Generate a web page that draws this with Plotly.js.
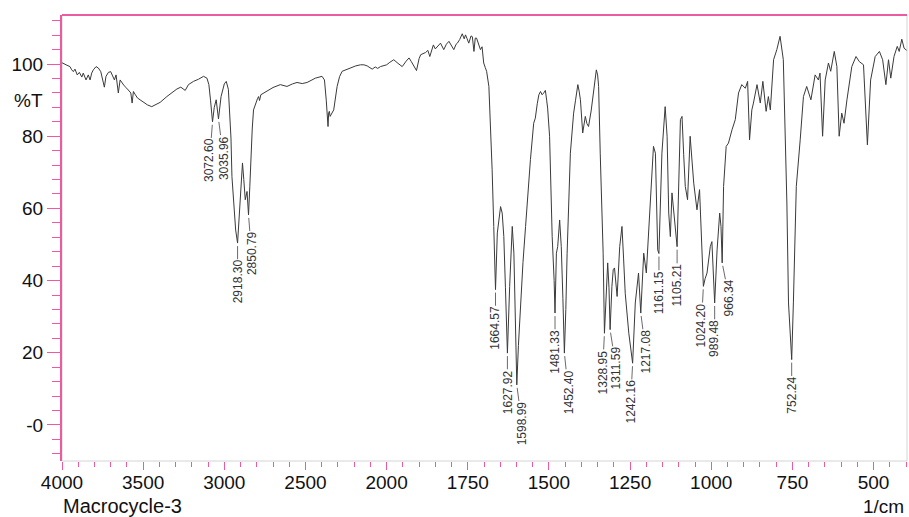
<!DOCTYPE html>
<html>
<head>
<meta charset="utf-8">
<script src="https://cdn.plot.ly/plotly-3.0.1.min.js"></script>
<style>
html,body{margin:0;padding:0;background:#fff;}
#chart{width:909px;height:517px;}
</style>
</head>
<body>
<div id="chart"></div>
<script>
// ---- Data ----
const wavenumber = [
4000,3996,3975,3951,3940,3930,3920,3906,3893,3878,3869,3852,3838,3827,3817,3807,3790,3776,3761,3749,
3739,3729,3714,3700,3687,3677,3667,3653,3642,3630,3617,3601,3588,3576,3568,3560,3548,3535,3519,3498,
3474,3447,3426,3395,3354,3323,3292,3268,3241,3221,3190,3159,3128,3107,3095,3085,3072.6,3062,3050,3036,
3020,3000,2988,2975,2965,2959,2953,2940,2930,2918.3,2905,2895,2888,2880,2871,2860,2850.8,2843,2836,2828,
2820,2805,2795,2789,2783,2775,2737,2700,2655,2614,2580,2552,2520,2490,2460,2439,2398,2383,2372,2365,
2361,2357,2353,2348,2342,2326,2305,2290,2274,2243,2223,2190,2161,2140,2120,2100,2089,2070,2055,2038,
2020,2000,1990,1978,1965,1952,1940,1931,1924,1915,1908,1900,1895,1880,1873,1867,1860,1856,1850,1844,
1834,1824,1816,1808,1800,1793,1786,1782,1775,1767,1761,1757,1752,1747,1740,1736,1731,1727,1723,1716,
1711,1706,1701,1696,1692,1685,1680,1675,1670,1664.6,1659,1652,1649,1644,1639,1634,1627.9,1621,1616,1613,
1608,1604,1599,1594,1588,1580,1572,1565,1557,1547,1542,1536,1531,1526,1521,1516,1511,1507,1504,1498,
1490,1484,1481.3,1477,1473,1467,1462,1457,1452.4,1448,1444,1434,1424,1418,1411,1407,1403,1396,1392,1388,
1383,1378,1370,1364,1358,1354,1350,1347,1342,1333,1329,1323,1319,1315,1311.6,1306,1302,1298,1290,1282,
1275,1270,1265,1254,1248,1242.2,1234,1224,1217.1,1208,1200,1193,1185,1178,1172,1165,1161.2,1152,1142,1136,
1131,1126,1121,1111,1105.2,1095,1090,1085,1080,1073,1065,1054,1044,1036,1029,1024.2,1019,1013,1003,998,
989.5,982,974,970,966.3,962,954,947,936,926,916,906,895,888,882,875,870,859,849,841,
831,824,818,808,798,788,778,767,762,752.2,747,738,726,716,706,693,680,670,665,657,
649,639,632,621,613,606,598,591,582,567,554,544,531,519,509,495,482,472,462,454,
447,437,427,421,413,406,398
];
const transmittance = [
100.2,100.3,99.8,99.3,98.4,97.9,98.6,97.0,97.7,96.4,97.5,95.6,97.0,95.6,97.5,98.4,99.3,98.9,97.9,95.6,
93.6,96.6,97.7,97.9,96.6,95.6,97.0,92.0,95.6,94.7,94.0,93.3,92.7,92.0,89.2,92.4,91.5,90.6,90.1,89.4,
88.7,88.2,88.6,89.4,91.0,92.1,93.1,93.6,92.7,94.3,95.2,95.8,96.6,96.1,94.3,90.0,84.0,88.0,90.1,84.8,
91.0,94.5,95.2,93.0,86.0,79.5,68.8,60.0,54.0,50.4,60.0,68.0,72.6,68.0,62.4,64.7,58.2,66.0,74.4,82.0,
87.3,89.5,90.5,91.0,89.9,91.5,92.4,93.5,94.3,93.8,94.5,94.9,94.6,94.9,95.6,96.1,96.6,95.6,90.0,84.0,
82.7,86.5,86.9,85.5,86.0,87.3,93.8,96.5,98.0,98.6,98.9,99.5,99.8,99.8,99.5,98.8,98.6,99.2,98.8,99.3,
99.6,99.8,100.5,101.2,100.2,99.3,100.8,101.7,100.7,99.5,98.2,101.5,102.6,103.2,103.8,102.1,104.5,105.3,104.2,104.7,
105.8,104.0,105.5,106.3,105.2,104.0,105.5,105.8,106.8,108.4,107.0,108.1,107.0,105.8,107.8,107.6,103.5,107.2,107.2,105.5,
104.0,104.8,100.3,99.0,98.0,93.8,84.0,70.7,55.0,37.5,53.2,58.0,60.5,58.7,52.2,38.0,19.9,38.4,50.0,55.0,
47.6,30.0,11.1,22.0,33.8,45.0,55.0,65.0,73.5,83.6,85.0,89.0,91.5,92.4,91.5,92.0,92.7,90.0,87.8,80.0,
52.2,40.0,31.0,47.6,49.4,56.8,49.4,35.0,19.9,32.0,47.6,75.3,86.4,90.0,94.3,92.5,90.1,80.9,84.0,85.5,
83.5,82.7,87.0,91.0,95.0,98.4,97.0,93.8,75.3,47.6,25.4,40.2,44.9,38.0,26.4,38.4,43.0,43.5,35.6,49.4,
55.0,46.0,36.5,25.4,21.0,17.1,33.8,42.1,31.0,47.6,42.1,52.2,65.0,77.2,75.3,48.5,47.5,75.3,88.2,80.0,
58.7,52.2,64.3,55.9,49.4,84.6,85.5,75.0,66.1,62.4,80.0,67.0,59.6,65.2,47.6,38.4,40.5,42.1,49.4,50.8,
33.8,48.5,58.7,55.0,44.9,66.1,77.2,78.1,81.8,84.6,92.0,94.3,93.3,95.2,79.0,87.3,89.2,94.3,89.2,95.2,
86.9,91.0,87.3,101.2,104.0,107.7,101.2,61.5,33.8,18.1,33.8,66.1,79.0,91.0,93.8,90.1,97.0,95.6,97.5,80.0,
95.6,100.3,98.0,103.5,99.3,80.0,86.4,83.6,90.1,99.3,102.1,100.7,99.8,77.6,95.6,102.1,103.5,101.2,94.3,101.2,
96.1,102.1,104.9,103.5,106.9,104.4,103.8
];
const peakLabels = ['3072.60','3035.96','2918.30','2850.79','1664.57','1627.92','1598.99','1481.33','1452.40',
  '1328.95','1311.59','1242.16','1217.08','1161.15','1105.21','1024.20','989.48','966.34','752.24'];
const peakTransmittance = [84.0,84.8,50.4,58.2,37.5,19.9,11.1,31.0,19.9,25.4,26.4,17.1,31.0,47.5,49.4,38.4,33.8,44.9,18.1];
const xTickWavenumbers = [4000,3500,3000,2500,2000,1750,1500,1250,1000,750,500];
const yTickValues = [0,20,40,60,80,100];
const yTickLabels = ['-0','20','40','60','80','100'];
const sampleName = 'Macrocycle-3';
const xUnit = '1/cm';
const yUnit = '%T';

// ---- Axis: scale is halved above 2000 1/cm (spectrometer split scale) ----
function axisPos(w) { return w > 2000 ? 2000 + (w - 2000) / 2 : w; }

const pink = '#ee5aa0';
const font = 'Liberation Sans, Arial, sans-serif';
const labelSize = 12;

// label offsets (pixels) for readability, like the original printout
const labelShift = {'3072.60': -3, '3035.96': 5, '2850.79': 3, '1598.99': 5, '1452.40': 4,
  '1328.95': -2, '1311.59': 6, '1242.16': -2, '1217.08': 5, '1024.20': -2, '966.34': 7};

function labelLength(s) {
  // approximate rendered length of a number string in Liberation Sans
  let n = 0;
  for (const ch of s) n += (ch === '.') ? 0.278 : 0.556;
  return n * labelSize;
}

const trace = {
  x: wavenumber.map(axisPos),
  y: transmittance,
  type: 'scatter',
  mode: 'lines',
  line: {color: '#3a3a3a', width: 1},
  hoverinfo: 'skip'
};

const annotations = peakLabels.map((lab, i) => ({
  x: axisPos(parseFloat(lab)),
  y: peakTransmittance[i],
  xref: 'x', yref: 'y',
  text: lab,
  textangle: -90,
  showarrow: true,
  arrowhead: 0,
  arrowwidth: 0.8,
  arrowcolor: '#444',
  standoff: 3,
  borderpad: 0,
  ax: labelShift[lab] || 0,
  ay: 17 + labelLength(lab) / 2,
  font: {family: font, size: labelSize, color: '#333'}
}));

annotations.push(
  {xref: 'paper', yref: 'paper', x: -0.0402, y: 0.809, text: yUnit, showarrow: false,
   xanchor: 'center', yanchor: 'middle', font: {family: font, size: 19, color: '#111'}},
  {xref: 'paper', yref: 'paper', x: 0, y: -0.101, text: sampleName, showarrow: false,
   xanchor: 'left', yanchor: 'middle', borderpad: 0, font: {family: font, size: 20, color: '#111'}},
  {xref: 'paper', yref: 'paper', x: 0.9976, y: -0.101, text: xUnit, showarrow: false,
   xanchor: 'right', yanchor: 'middle', borderpad: 0, font: {family: font, size: 19, color: '#111'}}
);

const layout = {
  width: 909, height: 517,
  margin: {l: 62, r: 2, t: 15, b: 56},
  paper_bgcolor: '#fff', plot_bgcolor: '#fff',
  showlegend: false,
  font: {family: font, size: 19, color: '#111'},
  xaxis: {
    range: [axisPos(4000), axisPos(397)],
    tickmode: 'array',
    tickvals: xTickWavenumbers.map(axisPos),
    ticktext: xTickWavenumbers.map(String),
    ticks: 'outside', ticklen: 8, tickcolor: pink, tickwidth: 1,
    ticklabelstandoff: -4,
    minor: {tickmode: 'linear', tick0: 0, dtick: 50, ticks: 'outside', ticklen: 5, tickcolor: pink, tickwidth: 1},
    showgrid: false, zeroline: false, showline: false,
    tickfont: {family: font, size: 19, color: '#111'}
  },
  yaxis: {
    range: [-10, 113.6],
    tickmode: 'array',
    tickvals: yTickValues,
    ticktext: yTickLabels,
    ticks: 'outside', ticklen: 13, tickcolor: pink, tickwidth: 1,
    minor: {tickmode: 'linear', tick0: 0, dtick: 4, ticks: 'outside', ticklen: 8, tickcolor: pink, tickwidth: 1},
    showgrid: false, zeroline: false,
    showline: true, linecolor: pink, linewidth: 2,
    tickfont: {family: font, size: 19, color: '#111'}
  },
  shapes: [
    {type: 'rect', xref: 'paper', yref: 'paper', x0: 0, x1: 1, y0: 0, y1: 1,
     line: {color: '#d4d4d4', width: 1}, layer: 'below'},
    {type: 'line', xref: 'paper', yref: 'paper', x0: 0, x1: 1, y0: 1, y1: 1,
     line: {color: pink, width: 2}}
  ],
  annotations: annotations
};

Plotly.newPlot('chart', [trace], layout, {displayModeBar: false, staticPlot: true});
</script>
</body>
</html>
